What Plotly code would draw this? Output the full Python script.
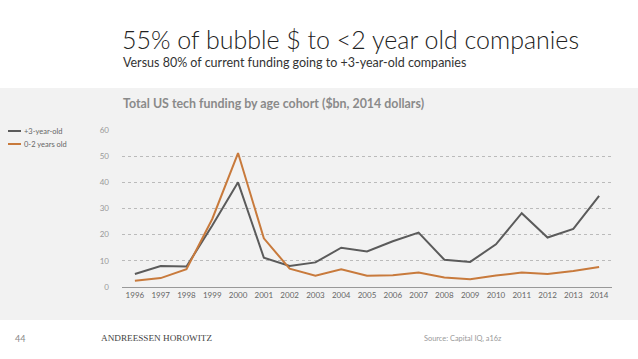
import plotly.graph_objects as go

years = list(range(1996, 2015))
older = [5.0, 8.0, 7.8, 23.5, 40.0, 11.2, 8.0, 9.4, 15.0, 13.6, 17.5, 20.8, 10.4, 9.6, 16.3, 28.2, 18.9, 22.2, 34.8]
young = [2.4, 3.4, 6.8, 26.0, 51.2, 18.6, 7.0, 4.3, 6.8, 4.3, 4.5, 5.5, 3.6, 3.0, 4.4, 5.5, 5.0, 6.1, 7.6]
name_old = "+3-year-old"
name_young = "0-2 years old"
y_ticks = [0, 10, 20, 30, 40, 50, 60]

W, H = 638, 359
L, R, T, B = 122, 26, 130, 72
pw, ph = W - L - R, H - T - B

def px(x):
    return (x - L) / pw

def py(y):
    return (H - B - y) / ph

GREY = "#5b5b5b"
ORANGE = "#c87a3c"
FONT = "Lato"

fig = go.Figure()
fig.add_trace(go.Scatter(x=years, y=older, mode="lines", name=name_old,
                         line=dict(color=GREY, width=2)))
fig.add_trace(go.Scatter(x=years, y=young, mode="lines", name=name_young,
                         line=dict(color=ORANGE, width=2)))

shapes = [
    dict(type="rect", xref="paper", yref="paper", x0=px(0), x1=px(W), y0=py(320), y1=py(88),
         fillcolor="#f2f2f2", line=dict(width=0), layer="below"),
    dict(type="line", xref="paper", yref="paper", x0=px(8), x1=px(21), y0=py(131), y1=py(131),
         line=dict(color=GREY, width=2)),
    dict(type="line", xref="paper", yref="paper", x0=px(8), x1=px(21), y0=py(144), y1=py(144),
         line=dict(color=ORANGE, width=2)),
]

def ann(text, x, y, size, color, family=FONT, xanchor="left", yanchor="middle", weight="normal"):
    return dict(text=text, xref="paper", yref="paper", x=px(x), y=py(y), showarrow=False,
                xanchor=xanchor, yanchor=yanchor,
                font=dict(size=size, color=color, family=family, weight=weight))

annotations = [
    ann("55% of bubble $ to &lt;2 year old companies", 120, 39, 25, "#222222", weight=300),
    ann("Versus 80% of current funding going to +3-year-old companies", 121, 62, 12.5, "#333333"),
    ann("<b>Total US tech funding by age cohort ($bn, 2014 dollars)</b>", 121, 103, 12.4, "#8a8a8a"),
    ann(name_old, 22, 131, 7.5, "#666666"),
    ann(name_young, 22, 144, 7.5, "#666666"),
    ann("44", 13, 338, 9, "#888888"),
    ann("ANDREESSEN HOROWITZ", 99, 338, 9.2, "#444444", family="Liberation Serif"),
    ann("Source: Capital IQ, a16z", 504, 338, 7.4, "#999999", xanchor="right"),
]

fig.update_layout(
    width=W, height=H,
    margin=dict(l=L, r=R, t=T, b=B, pad=0),
    paper_bgcolor="white",
    plot_bgcolor="rgba(0,0,0,0)",
    showlegend=False,
    shapes=shapes,
    annotations=annotations,
    font=dict(family=FONT, color="#888888"),
)
fig.update_xaxes(range=[1995.5, 2014.5], tickvals=years, ticktext=[str(y) for y in years],
                 showgrid=False, showline=True, linecolor="#999999", linewidth=1,
                 ticks="", tickfont=dict(size=8, color="#666666"), zeroline=False, fixedrange=True)
fig.update_yaxes(range=[0, 60], tickvals=y_ticks, showgrid=True, gridcolor="#bbbbbb",
                 griddash="dot", gridwidth=1, zeroline=False, showline=False,
                 ticks="", ticklabelstandoff=12, tickfont=dict(size=8, color="#999999"), fixedrange=True)

fig.write_html("out.html", config={"displayModeBar": False},
               post_script="document.body.style.margin='0';document.body.style.overflow='hidden';")
